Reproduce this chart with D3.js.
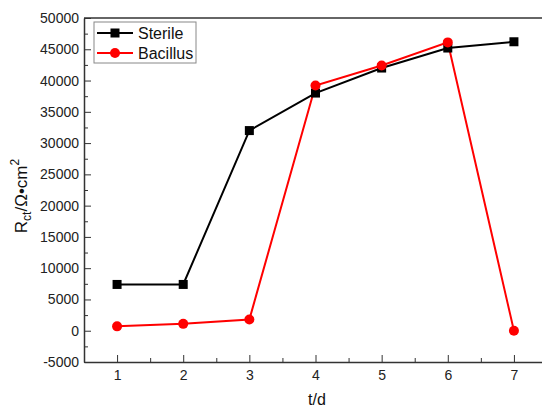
<!DOCTYPE html>
<html lang="en">
<head>
<meta charset="UTF-8">
<title>Rct vs t</title>
<script src="https://d3js.org/d3.v7.min.js"></script>
<style>
    body { margin: 0; background: #fff; }
    svg { font-family: Arial, "Liberation Sans", sans-serif; }
    .tick text { font-size: 14px; fill: #222; }
</style>
</head>
<body>
<svg id="canvas" width="542" height="408"></svg>
<script>
    // data
    const days = [1, 2, 3, 4, 5, 6, 7];
    const sterile = [7400, 7400, 32000, 38000, 42000, 45200, 46200];
    const bacillus = [700, 1100, 1800, 39200, 42400, 46100, 0];
    const yTicks = [-5000, 0, 5000, 10000, 15000, 20000, 25000, 30000, 35000, 40000, 45000, 50000];
    const seriesNames = ["Sterile", "Bacillus"];

    const svg = d3.select("#canvas");
    const mLeft = 84, mTop = 18, mBottom = 362, mRight = 547;

    const x = d3.scaleLinear().domain([0.5, 7.5]).range([mLeft, mRight]);
    const y = d3.scaleLinear().domain([-5000, 50000]).range([mBottom, mTop]);

    // top frame line
    svg.append("line")
        .attr("x1", mLeft).attr("x2", mRight)
        .attr("y1", mTop).attr("y2", mTop)
        .attr("stroke", "#333").attr("stroke-width", 1.5);

    // minor ticks
    const minorX = d3.range(1.5, 7.5, 1);
    svg.append("g")
        .attr("transform", `translate(0,${mBottom})`)
        .call(d3.axisBottom(x).tickValues(minorX).tickSize(-4).tickFormat(""))
        .call(g => g.select(".domain").remove())
        .selectAll("line").attr("stroke", "#333");
    const minorY = d3.range(-2500, 50000, 5000);
    svg.append("g")
        .attr("transform", `translate(${mLeft},0)`)
        .call(d3.axisLeft(y).tickValues(minorY).tickSize(-4).tickFormat(""))
        .call(g => g.select(".domain").remove())
        .selectAll("line").attr("stroke", "#333");

    // major axes
    const xAxis = svg.append("g")
        .attr("transform", `translate(0,${mBottom})`)
        .call(d3.axisBottom(x).tickValues(days).tickSize(-7).tickPadding(12).tickSizeOuter(0).tickFormat(d => String(d)));
    const yAxis = svg.append("g")
        .attr("transform", `translate(${mLeft},0)`)
        .call(d3.axisLeft(y).tickValues(yTicks).tickSize(-7).tickPadding(12).tickSizeOuter(0).tickFormat(d => String(d)));
    [xAxis, yAxis].forEach(g => {
        g.select(".domain").attr("stroke", "#333").attr("stroke-width", 1.5);
        g.selectAll(".tick line").attr("stroke", "#333");
    });
    yAxis.selectAll(".tick text").attr("x", -5);
    xAxis.selectAll(".tick text").attr("y", 8);

    // lines
    const line = d3.line().x((d, i) => x(days[i])).y(d => y(d));
    const plot = svg.append("g");
    plot.append("path").datum(sterile)
        .attr("d", line).attr("fill", "none").attr("stroke", "#000").attr("stroke-width", 2);
    plot.append("path").datum(bacillus)
        .attr("d", line).attr("fill", "none").attr("stroke", "#f00").attr("stroke-width", 2);
    plot.selectAll("rect.sq").data(sterile).enter().append("rect")
        .attr("class", "sq")
        .attr("x", (d, i) => x(days[i]) - 4.5).attr("y", d => y(d) - 4.5)
        .attr("width", 9).attr("height", 9).attr("fill", "#000");
    plot.selectAll("circle.dot").data(bacillus).enter().append("circle")
        .attr("class", "dot")
        .attr("cx", (d, i) => x(days[i])).attr("cy", d => y(d))
        .attr("r", 5).attr("fill", "#f00");

    // legend
    const lg = svg.append("g").attr("transform", "translate(94,22)");
    lg.append("rect").attr("width", 102).attr("height", 41)
        .attr("fill", "#fff").attr("stroke", "#888").attr("stroke-width", 1);
    seriesNames.forEach((name, i) => {
        const cy = 11 + i * 20;
        const col = i === 0 ? "#000" : "#f00";
        lg.append("line").attr("x1", 3).attr("x2", 39).attr("y1", cy).attr("y2", cy)
            .attr("stroke", col).attr("stroke-width", 2);
        if (i === 0) {
            lg.append("rect").attr("x", 16.5).attr("y", cy - 4.5).attr("width", 9).attr("height", 9).attr("fill", col);
        } else {
            lg.append("circle").attr("cx", 21).attr("cy", cy).attr("r", 5).attr("fill", col);
        }
        lg.append("text").attr("x", 44).attr("y", cy + 6)
            .attr("font-size", 16).attr("fill", "#111").text(name);
    });

    // axis titles
    svg.append("text").attr("x", 317).attr("y", 405)
        .attr("text-anchor", "middle").attr("font-size", 16).attr("fill", "#111").text("t/d");
    const yt = svg.append("text")
        .attr("transform", "translate(27,196) rotate(-90)")
        .attr("text-anchor", "middle").attr("font-size", 17).attr("fill", "#111");
    yt.append("tspan").text("R");
    yt.append("tspan").attr("font-size", 12).attr("dy", 4).text("ct");
    yt.append("tspan").attr("dy", -4).text("/Ω•cm");
    yt.append("tspan").attr("font-size", 12).attr("dy", -8).text("2");
</script>
</body>
</html>
